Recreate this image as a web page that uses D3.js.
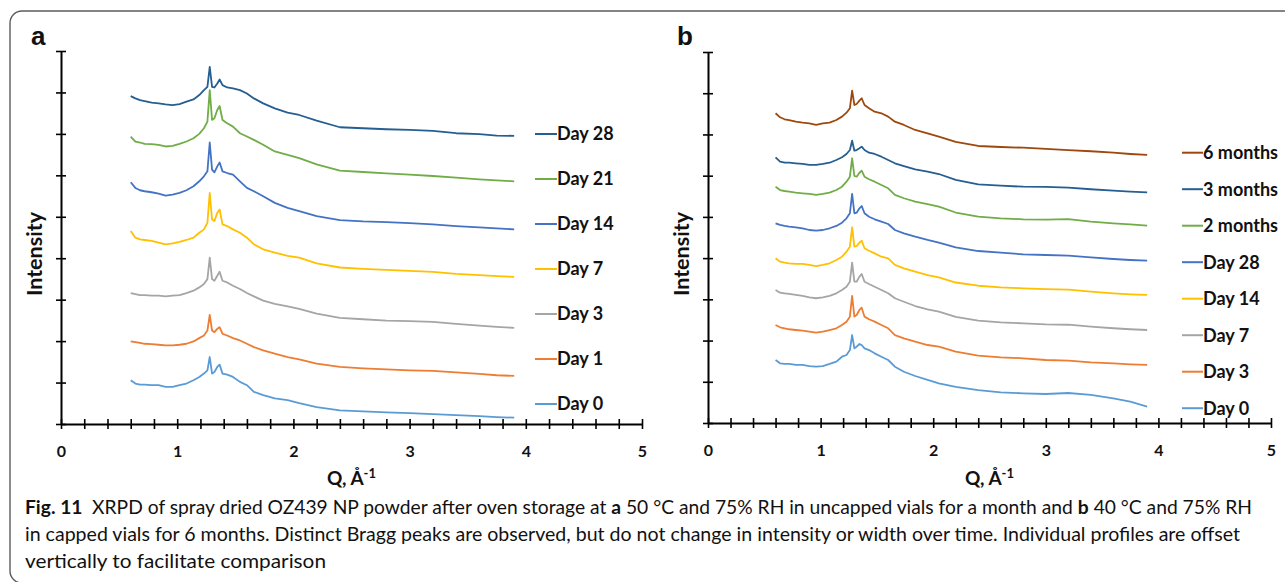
<!DOCTYPE html>
<html>
<head>
<meta charset="utf-8">
<script src="https://cdn.jsdelivr.net/npm/d3@7"></script>
<style>
body { margin: 0; background: #fff; }
svg text { font-family: Lato, "Liberation Sans", sans-serif; fill: #111; }
</style>
</head>
<body>
<div id="chart"></div>
<script>
const qGrid = [0.60, 0.64, 0.68, 0.72, 0.78, 0.84, 0.90, 0.96, 1.02, 1.08, 1.14, 1.19, 1.23, 1.26, 1.28, 1.30, 1.32, 1.345, 1.365, 1.39,
    1.43, 1.48, 1.54, 1.60, 1.66, 1.74, 1.84, 1.95, 2.05, 2.2, 2.4, 2.6, 2.8, 3.0, 3.2, 3.4, 3.6, 3.75, 3.9];

const xTickLabels = [0, 1, 2, 3, 4, 5];
const yTicks = [0, 500, 1000, 1500, 2000, 2500, 3000, 3500, 4000, 4500];

// panel a : 50 °C / 75% RH, uncapped (offset intensity, a.u.)
const namesA = ['Day 28', 'Day 21', 'Day 14', 'Day 7', 'Day 3', 'Day 1', 'Day 0'];
const colorsA = ['#255E91', '#70AD47', '#4472C4', '#FFC000', '#A5A5A5', '#ED7D31', '#5B9BD5'];

const day28A = [3956,3928,3908,3896,3876,3868,3856,3848,3860,3888,3916,3968,4028,4068,4308,4068,4060,4108,4156,4088,4060,4048,4028,3988,3928,3868,3808,3756,3728,3660,3580,3568,3556,3548,3536,3508,3496,3480,3476];
const day21A = [3468,3408,3396,3380,3376,3368,3348,3356,3380,3408,3448,3500,3568,3648,4028,3668,3688,3788,3836,3668,3628,3588,3508,3468,3428,3368,3288,3248,3208,3132,3056,3040,3024,3008,2992,2972,2952,2940,2928];
const day14A = [2916,2848,2820,2808,2796,2780,2756,2768,2788,2820,2868,2928,2988,3048,3396,3068,3036,3108,3156,3048,3028,3008,2928,2848,2808,2748,2668,2608,2568,2508,2460,2444,2436,2424,2408,2388,2372,2360,2348];
const day7A = [2328,2248,2228,2220,2208,2188,2168,2180,2196,2220,2248,2308,2348,2428,2788,2468,2448,2548,2588,2408,2388,2348,2308,2248,2168,2108,2068,2028,2008,1938,1888,1872,1860,1848,1836,1812,1796,1784,1776];
const day3A = [1580,1568,1556,1556,1548,1548,1540,1548,1556,1580,1608,1648,1688,1748,2008,1748,1728,1788,1836,1728,1708,1668,1628,1580,1540,1488,1448,1420,1388,1332,1280,1264,1248,1240,1232,1208,1188,1172,1160];
const day1A = [996,988,980,968,964,956,948,948,956,968,996,1036,1068,1128,1316,1128,1108,1148,1168,1088,1068,1036,1008,968,928,888,848,808,780,728,688,672,660,648,640,624,604,588,580];
const day0A = [528,488,476,476,468,468,448,448,468,488,528,568,608,648,808,608,628,688,716,608,596,568,508,468,388,348,308,288,252,204,164,152,140,132,120,108,96,84,76];

// panel b : 40 °C / 75% RH, capped
const namesB = ['6 months', '3 months', '2 months', 'Day 28', 'Day 14', 'Day 7', 'Day 3', 'Day 0'];
const colorsB = ['#9E480E', '#255E91', '#70AD47', '#4472C4', '#FFC000', '#A5A5A5', '#ED7D31', '#5B9BD5'];

const month6B = [3757,3708,3684,3675,3655,3643,3635,3615,3635,3643,3675,3716,3764,3817,4031,3857,3869,3910,3939,3857,3817,3776,3757,3716,3655,3615,3554,3514,3473,3409,3360,3348,3339,3324,3311,3296,3279,3263,3251];
const month3B = [3223,3170,3157,3157,3150,3142,3130,3130,3142,3157,3190,3223,3263,3311,3424,3303,3311,3332,3352,3311,3279,3263,3230,3190,3150,3117,3077,3049,3020,2948,2895,2878,2866,2863,2854,2835,2818,2806,2798];
const month2B = [2866,2826,2814,2806,2794,2786,2778,2766,2778,2794,2826,2866,2927,2988,3211,2996,2988,3036,3060,2988,2956,2927,2887,2847,2766,2726,2684,2656,2624,2553,2502,2483,2471,2466,2474,2442,2422,2410,2393];
const day28B = [2422,2402,2390,2381,2374,2362,2341,2333,2341,2362,2390,2430,2483,2544,2778,2544,2551,2604,2632,2544,2502,2471,2442,2414,2341,2301,2260,2220,2187,2129,2086,2066,2046,2038,2029,2010,1989,1977,1969];
const day14B = [1998,1957,1944,1937,1929,1929,1917,1904,1917,1937,1977,2017,2078,2139,2374,2139,2147,2187,2211,2119,2090,2058,2017,1998,1917,1876,1835,1795,1767,1704,1665,1646,1634,1625,1617,1593,1573,1561,1553];
const day7B = [1613,1581,1573,1565,1553,1541,1525,1513,1525,1541,1573,1613,1653,1714,1944,1714,1714,1775,1807,1714,1686,1653,1613,1573,1513,1471,1419,1379,1350,1286,1241,1221,1209,1197,1192,1168,1149,1137,1128];
const day3B = [1189,1161,1149,1137,1128,1120,1108,1096,1108,1128,1149,1189,1229,1290,1541,1290,1310,1371,1399,1290,1258,1229,1189,1149,1067,1027,986,946,926,867,817,797,785,764,756,736,724,712,704];
const day0B = [764,724,716,716,704,704,691,683,691,716,744,804,825,885,1067,906,926,958,946,906,885,845,804,764,683,622,570,522,482,437,400,372,360,352,364,340,300,258,198];

const valuesA = [day28A, day21A, day14A, day7A, day3A, day1A, day0A];
const valuesB = [month6B, month3B, month2B, day28B, day14B, day7B, day3B, day0B];

const width = 1285, height = 582;

const svg = d3.select('#chart').append('svg')
    .attr('width', width)
    .attr('height', height);

// figure box
svg.append('rect')
    .attr('x', 10).attr('y', 11)
    .attr('width', 1300).attr('height', 572)
    .attr('rx', 12)
    .attr('fill', 'none')
    .attr('stroke', '#5c5c5c')
    .attr('stroke-width', 1.4);

const xrpdPanel = function (_names, _values, _colors, _box, _svg) {
    let module = {},
    names = _names,
    values = _values,
    colors = _colors,
    box = _box,
    g = _svg.append('g'),
    x = d3.scaleLinear().domain([0, 5]).range([box.left, box.right]),
    y = d3.scaleLinear().domain([0, 4500]).range([box.bottom, box.top]),
    line = d3.line()
        .x((d, i) => x(qGrid[i]))
        .y(d => y(d));

    module.init = () => {
        const xAxis = g.append('g')
            .attr('transform', `translate(0,${box.bottom})`)
            .call(d3.axisBottom(x)
                .tickValues(d3.range(26).map(i => i / 5))
                .tickSize(5)
                .tickSizeOuter(0)
                .tickFormat(d => xTickLabels.includes(Math.round(d * 10) / 10) ? d3.format('d')(d) : ''));
        xAxis.attr('font-family', null).attr('font-size', null);
        xAxis.select('.domain').attr('stroke', '#000').attr('stroke-width', 2);
        xAxis.selectAll('.tick line').attr('y1', -5).attr('y2', 5).attr('stroke', '#000').attr('stroke-width', 1.6);
        xAxis.selectAll('.tick text')
            .attr('y', 22)
            .attr('font-size', 16)
            .attr('font-weight', 'bold')
            .attr('fill', '#111');

        const yAxis = g.append('g')
            .attr('transform', `translate(${box.left},0)`)
            .call(d3.axisLeft(y).tickValues(yTicks).tickSize(5).tickSizeOuter(0).tickFormat(''));
        yAxis.select('.domain').attr('stroke', '#000').attr('stroke-width', 2);
        yAxis.selectAll('.tick line').attr('x1', 5).attr('x2', -5).attr('stroke', '#000').attr('stroke-width', 1.6);

        g.append('g').selectAll('path')
            .data(values)
            .join('path')
            .attr('d', d => line(d))
            .attr('fill', 'none')
            .attr('stroke', (d, i) => colors[i])
            .attr('stroke-width', 1.8)
            .attr('stroke-linejoin', 'round');

        // legend
        const item = g.append('g').selectAll('g')
            .data(names)
            .join('g')
            .attr('transform', (d, i) => `translate(${box.legendX},${box.legendY + i * box.legendStep})`);
        item.append('line')
            .attr('x1', 0).attr('x2', box.legendLine)
            .attr('stroke', (d, i) => colors[i])
            .attr('stroke-width', 2);
        item.append('text')
            .attr('x', box.legendLine)
            .attr('dy', '0.35em')
            .attr('font-size', 18)
            .attr('font-weight', 'bold')
            .text(d => d);

        g.append('text')
            .attr('transform', `translate(${box.titleYx},254) rotate(-90)`)
            .attr('text-anchor', 'middle')
            .attr('font-size', 21.5)
            .attr('font-weight', 'bold')
            .text('Intensity');

        const xt = g.append('text')
            .attr('x', (box.left + box.right) / 2)
            .attr('y', 485)
            .attr('text-anchor', 'middle')
            .attr('font-size', 19)
            .attr('font-weight', 'bold');
        xt.append('tspan').text('Q, Å');
        xt.append('tspan').attr('dy', -7).attr('font-size', 13).text('-1');

        g.append('text')
            .attr('x', box.letterX)
            .attr('y', 45)
            .attr('font-size', 26)
            .attr('font-weight', 'bold')
            .style('font-family', '"Liberation Sans", Arial, sans-serif')
            .text(box.letter);
    }
    return module;
}

const panelA = xrpdPanel(namesA, valuesA, colorsA,
    { left: 61, right: 642, top: 51, bottom: 424, legendX: 535, legendY: 134, legendStep: 45, legendLine: 22, titleYx: 42, letterX: 31, letter: 'a' }, svg);
panelA.init();

const panelB = xrpdPanel(namesB, valuesB, colorsB,
    { left: 708, right: 1271, top: 52, bottom: 423, legendX: 1182, legendY: 152.7, legendStep: 36.5, legendLine: 21, titleYx: 689, letterX: 677, letter: 'b' }, svg);
panelB.init();

// caption
const caption = svg.append('g')
    .style('font-family', 'Roboto, "Open Sans", sans-serif')
    .attr('font-size', 19);

const line1 = caption.append('text').attr('x', 25).attr('y', 514).attr('textLength', 1227).attr('lengthAdjust', 'spacingAndGlyphs');
line1.append('tspan').attr('font-weight', 'bold').text('Fig. 11');
line1.append('tspan').text('\u2002XRPD of spray dried OZ439 NP powder after oven storage at ');
line1.append('tspan').attr('font-weight', 'bold').text('a');
line1.append('tspan').text(' 50 °C and 75% RH in uncapped vials for a month and ');
line1.append('tspan').attr('font-weight', 'bold').text('b');
line1.append('tspan').text(' 40 °C and 75% RH');

caption.append('text').attr('x', 25).attr('y', 541).attr('textLength', 1215).attr('lengthAdjust', 'spacingAndGlyphs')
    .text('in capped vials for 6 months. Distinct Bragg peaks are observed, but do not change in intensity or width over time. Individual profiles are offset');

caption.append('text').attr('x', 25).attr('y', 568).attr('textLength', 301).attr('lengthAdjust', 'spacingAndGlyphs')
    .text('vertically to facilitate comparison');
</script>
</body>
</html>
